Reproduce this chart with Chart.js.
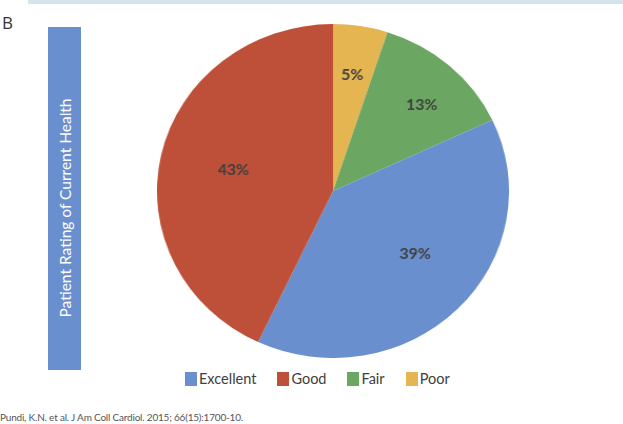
<!DOCTYPE html>
<html>
<head>
<meta charset="utf-8">
<script src="https://cdn.jsdelivr.net/npm/chart.js@4.4.1/dist/chart.umd.min.js"></script>
<style>
    html, body { margin: 0; padding: 0; background: #fff; }
    body { width: 623px; height: 424px; position: relative; overflow: hidden; font-family: Lato, sans-serif; }
    #topRule { position: absolute; left: 28px; top: 0; width: 595px; height: 4px; background: #d5e3ea; }
    #panelLetter { position: absolute; left: 2px; top: 11px; font: 17px "Open Sans", sans-serif; color: #333; }
    #axisBar { position: absolute; left: 48px; top: 27px; width: 33px; height: 343px; background: #6a8fcf; }
    #axisBar span { position: absolute; left: 50%; top: 181px; transform: translate(-50%, -50%) rotate(-90deg);
        white-space: nowrap; color: #fff; font-size: 15.5px; }
    #pieWrap { position: absolute; left: 166px; top: 24px; width: 334px; height: 334px; transform: scaleX(1.054); }
    #legend { position: absolute; left: 185px; top: 370px; display: flex; gap: 21px; font-size: 14.5px; color: #404040; line-height: 18px; }
    #legend .item { display: flex; align-items: center; }
    #legend .swatch { width: 12px; height: 14px; margin-right: 2px; }
    #source { position: absolute; left: 0; top: 411px; font-size: 10px; letter-spacing: -0.2px; line-height: 12px; color: #555; }
</style>
</head>
<body>
<div id="topRule"></div>
<div id="panelLetter">B</div>
<div id="axisBar"><span>Patient Rating of Current Health</span></div>
<div id="pieWrap"><canvas id="pieChart"></canvas></div>
<div id="legend"></div>
<div id="source">Pundi, K.N. et al. J Am Coll Cardiol. 2015; 66(15):1700-10.</div>

<script>
// legend order
var categories = ['Excellent', 'Good', 'Fair', 'Poor'];
var percents = [39, 43, 13, 5];
var colors = ['#6a8fcf', '#be5039', '#6ba762', '#e4b550'];

// slices run clockwise from 12 o'clock in this order
var sliceOrder = [3, 2, 0, 1];
// label placement per slice (same order as sliceOrder): fraction of radius, angle nudge in degrees
var labelRadius = [0.7, 0.72, 0.6, 0.58];
var labelNudge = [0, 3, -6, 0];

var sliceValues = sliceOrder.map(function(i) { return percents[i]; });
var sliceLabels = sliceOrder.map(function(i) { return categories[i]; });
var sliceColors = sliceOrder.map(function(i) { return colors[i]; });

var pctLabels = {
    id: 'pctLabels',
    afterDatasetsDraw: function(chart) {
        var ctx = chart.ctx;
        var meta = chart.getDatasetMeta(0);
        ctx.save();
        ctx.font = 'bold 15px Lato, sans-serif';
        ctx.fillStyle = '#404040';
        ctx.textAlign = 'center';
        ctx.textBaseline = 'middle';
        meta.data.forEach(function(arc, i) {
            var p = arc.getProps(['x', 'y', 'startAngle', 'endAngle', 'outerRadius'], true);
            var mid = (p.startAngle + p.endAngle) / 2 + labelNudge[i] * Math.PI / 180;
            var r = p.outerRadius * labelRadius[i];
            ctx.fillText(sliceValues[i] + '%', p.x + Math.cos(mid) * r, p.y + Math.sin(mid) * r);
        });
        ctx.restore();
    }
};

new Chart(document.getElementById('pieChart'), {
    type: 'pie',
    data: {
        labels: sliceLabels,
        datasets: [{
            data: sliceValues,
            backgroundColor: sliceColors,
            borderWidth: 0
        }]
    },
    options: {
        responsive: true,
        maintainAspectRatio: false,
        animation: false,
        layout: { padding: 0 },
        plugins: {
            legend: { display: false },
            tooltip: { enabled: false }
        }
    },
    plugins: [pctLabels]
});

var legendEl = document.getElementById('legend');
categories.forEach(function(name, i) {
    var item = document.createElement('div');
    item.className = 'item';
    item.innerHTML = '<span class="swatch" style="background:' + colors[i] + '"></span><span>' + name + '</span>';
    legendEl.appendChild(item);
});
</script>
</body>
</html>
